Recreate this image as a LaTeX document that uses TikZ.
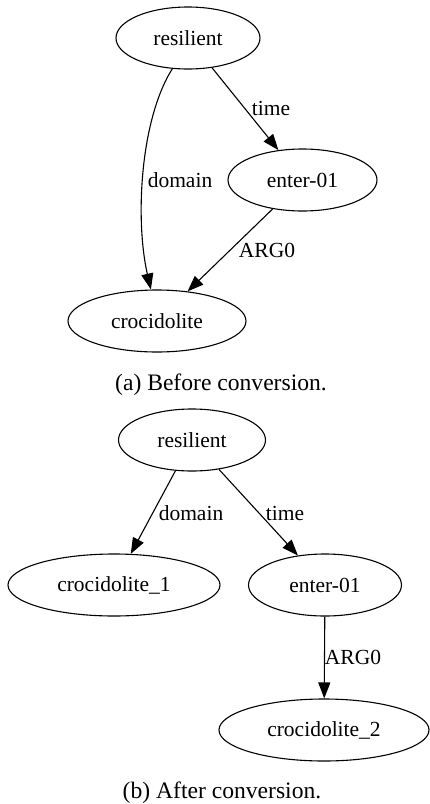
\documentclass[tikz,border=0pt]{standalone}
\usepackage{fontspec}
\setmainfont{Liberation Serif}
\usetikzlibrary{shapes.geometric,arrows.meta}
\begin{document}
\begin{tikzpicture}[x=1pt,y=-1pt,
  every node/.style={font=\fontsize{21.5}{25}\selectfont},
  ell/.style={draw,ellipse,line width=1.1pt,inner sep=0pt,minimum height=62pt},
  conn/.style={line width=1.1pt,-{Triangle[length=16pt,width=12pt]}},
  lbl/.style={inner sep=0pt},
  captxt/.style={font=\fontsize{23.6}{28}\selectfont,anchor=base,inner sep=0pt}]
\useasboundingbox (0,0) rectangle (430,804);
% (a)
\node[ell,minimum width=144pt] (r1) at (188,38) {resilient};
\node[ell,minimum width=149pt] (e1) at (302.5,180) {enter-01};
\node[ell,minimum width=178pt] (c1) at (157,321) {crocidolite};
\draw[conn] (r1) -- (e1);
\draw[conn] (e1) -- (c1);
\draw[conn] (r1.-117) .. controls (140,120) and (135,220) .. (c1.101);
\node[lbl] (t1) at (271,108) {time};
\node[lbl] (d1) at (180,180) {domain};
\node[lbl] (a1) at (267,250) {ARG0};
\node[captxt] (capa) at (221,390) {(a) Before conversion.};
% (b)
\node[ell,minimum width=147pt] (r2) at (192,440) {resilient};
\node[ell,minimum width=212pt] (cr1) at (114,585) {crocidolite\_1};
\node[ell,minimum width=153pt] (e2) at (325,585) {enter-01};
\node[ell,minimum width=210pt] (cr2) at (324,730) {crocidolite\_2};
\draw[conn] (r2) -- (cr1);
\draw[conn] (r2) -- (e2);
\draw[conn] (e2) -- (cr2);
\node[lbl] (d2) at (191,513) {domain};
\node[lbl] (t2) at (285,513) {time};
\node[lbl] (a2) at (353,657) {ARG0};
\node[captxt] (capb) at (222,798) {(b) After conversion.};
\end{tikzpicture}
\end{document}
